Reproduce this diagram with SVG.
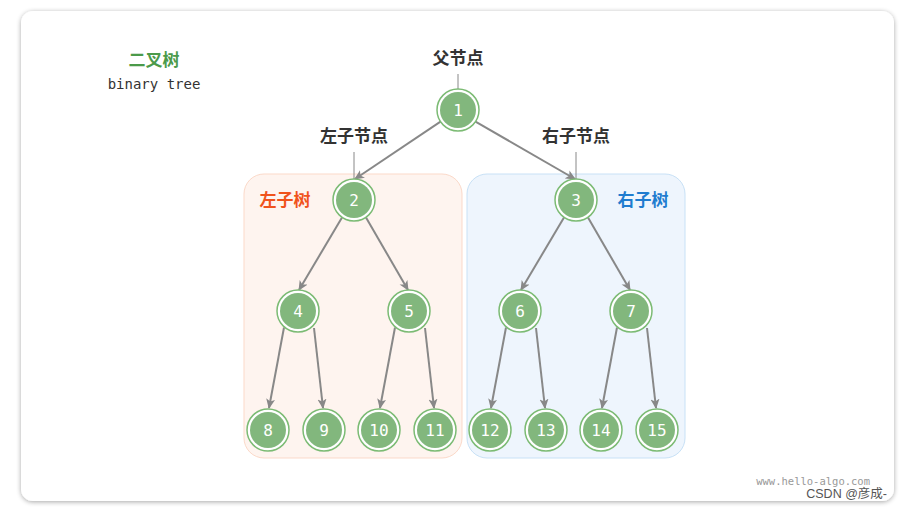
<svg xmlns="http://www.w3.org/2000/svg" width="903" height="508" viewBox="0 0 903 508">
<defs>
<filter id="sh" x="-5%" y="-5%" width="110%" height="110%"><feGaussianBlur in="SourceAlpha" stdDeviation="2.5"/><feOffset dx="0" dy="1"/><feComponentTransfer><feFuncA type="linear" slope="0.35"/></feComponentTransfer><feMerge><feMergeNode/><feMergeNode in="SourceGraphic"/></feMerge></filter>
<marker id="arr" viewBox="0 0 10 10" refX="9" refY="5" markerWidth="10" markerHeight="10" markerUnits="userSpaceOnUse" orient="auto"><path d="M0,0.5 L10,5 L0,9.5 L2.5,5 z" fill="#888"/></marker>
</defs>
<style>
.ring{fill:#fff;stroke:#7cbb74;stroke-width:1.5}
.core{fill:#82b77d}
.num{font-family:"DejaVu Sans Mono","Liberation Mono",monospace;font-size:16px;fill:#fff;text-anchor:middle}
.lbl{font-family:"Noto Sans CJK SC","Noto Sans",sans-serif;font-weight:bold;font-size:17px;fill:#333;text-anchor:middle}
.edge{stroke:#888;stroke-width:2;fill:none;marker-end:url(#arr)}
.lead{stroke:#888;stroke-width:1;fill:none}
</style>
<rect x="21" y="11" width="873" height="490" rx="12" fill="#fff" filter="url(#sh)"/>
<g id="subtrees">
<rect id="leftbox" x="244" y="174" width="218" height="284" rx="20" fill="#fef4ef" stroke="#fbd9c9" stroke-width="1"/>
<rect id="rightbox" x="467" y="174" width="218" height="284" rx="20" fill="#eef5fd" stroke="#c8e1f6" stroke-width="1"/>
</g>
<g id="texts">
<text x="154" y="66" class="lbl" style="fill:#4b9a4a">二叉树</text>
<text x="154" y="89" font-family="DejaVu Sans Mono,Liberation Mono,monospace" font-size="14" fill="#333" text-anchor="middle">binary tree</text>
<text x="458" y="64" class="lbl">父节点</text>
<text x="354" y="142" class="lbl">左子节点</text>
<text x="576" y="142" class="lbl">右子节点</text>
<text x="285" y="206" class="lbl" style="fill:#f0531c">左子树</text>
<text x="643" y="206" class="lbl" style="fill:#1f7ccf">右子树</text>
<text x="870" y="485" font-family="DejaVu Sans Mono,Liberation Mono,monospace" font-size="10.5" fill="#999" text-anchor="end">www.hello-algo.com</text>
<text x="887" y="498" font-family="Liberation Sans,Noto Sans CJK SC,sans-serif" font-size="12.5" fill="#555" text-anchor="end">CSDN @彦成-</text>
</g>
<g id="connectors">
<line class="lead" x1="458" y1="74" x2="458" y2="90"/>
<line class="lead" x1="354" y1="152" x2="354" y2="180"/>
<line class="lead" x1="576" y1="152" x2="576" y2="180"/>
<line class="edge" x1="440.5" y1="121.6" x2="355" y2="179"/>
<line class="edge" x1="475.5" y1="121.6" x2="575" y2="179"/>
<line class="edge" x1="342" y1="217.5" x2="299" y2="290"/>
<line class="edge" x1="366" y1="217.5" x2="408" y2="290"/>
<line class="edge" x1="564" y1="217.5" x2="521" y2="290"/>
<line class="edge" x1="588" y1="217.5" x2="630" y2="290"/>
<line class="edge" x1="284" y1="327.5" x2="269" y2="408"/>
<line class="edge" x1="314" y1="328" x2="323" y2="408"/>
<line class="edge" x1="395" y1="327.5" x2="380" y2="408"/>
<line class="edge" x1="425" y1="328" x2="434" y2="408"/>
<line class="edge" x1="506" y1="327.5" x2="491" y2="408"/>
<line class="edge" x1="536" y1="328" x2="545" y2="408"/>
<line class="edge" x1="617" y1="327.5" x2="602" y2="408"/>
<line class="edge" x1="647" y1="328" x2="656" y2="408"/>
</g>
<g id="n1"><circle class="ring" cx="458" cy="110" r="21"/><circle class="core" cx="458" cy="110" r="18"/><text class="num" x="458" y="116">1</text></g>
<g id="n2"><circle class="ring" cx="354" cy="200" r="21"/><circle class="core" cx="354" cy="200" r="18"/><text class="num" x="354" y="206">2</text></g>
<g id="n3"><circle class="ring" cx="576" cy="200" r="21"/><circle class="core" cx="576" cy="200" r="18"/><text class="num" x="576" y="206">3</text></g>
<g id="n4"><circle class="ring" cx="298" cy="311" r="21"/><circle class="core" cx="298" cy="311" r="18"/><text class="num" x="298" y="317">4</text></g>
<g id="n5"><circle class="ring" cx="409" cy="311" r="21"/><circle class="core" cx="409" cy="311" r="18"/><text class="num" x="409" y="317">5</text></g>
<g id="n6"><circle class="ring" cx="520" cy="311" r="21"/><circle class="core" cx="520" cy="311" r="18"/><text class="num" x="520" y="317">6</text></g>
<g id="n7"><circle class="ring" cx="631" cy="311" r="21"/><circle class="core" cx="631" cy="311" r="18"/><text class="num" x="631" y="317">7</text></g>
<g id="n8"><circle class="ring" cx="268" cy="430" r="21"/><circle class="core" cx="268" cy="430" r="18"/><text class="num" x="268" y="436">8</text></g>
<g id="n9"><circle class="ring" cx="324" cy="430" r="21"/><circle class="core" cx="324" cy="430" r="18"/><text class="num" x="324" y="436">9</text></g>
<g id="n10"><circle class="ring" cx="379" cy="430" r="21"/><circle class="core" cx="379" cy="430" r="18"/><text class="num" x="379" y="436">10</text></g>
<g id="n11"><circle class="ring" cx="435" cy="430" r="21"/><circle class="core" cx="435" cy="430" r="18"/><text class="num" x="435" y="436">11</text></g>
<g id="n12"><circle class="ring" cx="490" cy="430" r="21"/><circle class="core" cx="490" cy="430" r="18"/><text class="num" x="490" y="436">12</text></g>
<g id="n13"><circle class="ring" cx="546" cy="430" r="21"/><circle class="core" cx="546" cy="430" r="18"/><text class="num" x="546" y="436">13</text></g>
<g id="n14"><circle class="ring" cx="601" cy="430" r="21"/><circle class="core" cx="601" cy="430" r="18"/><text class="num" x="601" y="436">14</text></g>
<g id="n15"><circle class="ring" cx="657" cy="430" r="21"/><circle class="core" cx="657" cy="430" r="18"/><text class="num" x="657" y="436">15</text></g>
</svg>
